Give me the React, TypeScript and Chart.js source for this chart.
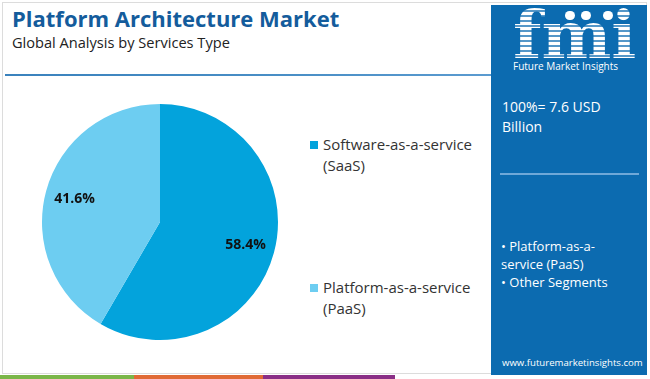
import React, { useEffect, useRef } from "react";
import { Chart, registerables } from "chart.js";

Chart.register(...registerables);

const categories = ["Software-as-a-service (SaaS)", "Platform-as-a-service (PaaS)"];
const legendLines = [["Software-as-a-service", "(SaaS)"], ["Platform-as-a-service", "(PaaS)"]];
const shares = [58.4, 41.6];
const colors = ["#03a3dc", "#6dcdf1"];
const title = "Platform Architecture Market";
const subtitle = "Global Analysis by Services Type";
const totalLines = ["100%= 7.6 USD", "Billion"];
const segmentLines = ["• Platform-as-a-", "service (PaaS)", "• Other Segments"];

const FONT = "'Open Sans', sans-serif";

const labelPlugin = {
  id: "sliceLabels",
  afterDatasetsDraw(chart: any) {
    const ctx = chart.ctx;
    const meta = chart.getDatasetMeta(0);
    ctx.save();
    ctx.font = `bold 14px ${FONT}`;
    ctx.fillStyle = "#111";
    ctx.textAlign = "center";
    ctx.textBaseline = "middle";
    meta.data.forEach((arc: any, i: number) => {
      const mid = (arc.startAngle + arc.endAngle) / 2;
      const r = arc.outerRadius * 0.75;
      ctx.fillText(shares[i].toFixed(1) + "%", arc.x + Math.cos(mid) * r, arc.y + Math.sin(mid) * r);
    });
    ctx.restore();
  },
};

export default function App() {
  const ref = useRef<HTMLCanvasElement>(null);
  useEffect(() => {
    const chart = new Chart(ref.current!, {
      type: "pie",
      data: {
        labels: categories,
        datasets: [{ data: shares, backgroundColor: colors, borderWidth: 0 }],
      },
      options: {
        responsive: false,
        animation: false,
        layout: { padding: 2 },
        plugins: { legend: { display: false }, tooltip: { enabled: false } },
      },
      plugins: [labelPlugin],
    });
    return () => chart.destroy();
  }, []);

  const abs = (o: any): React.CSSProperties => ({ position: "absolute", ...o });

  return (
    <div style={{ position: "fixed", left: 0, top: 0, width: 650, height: 379, background: "#fff", overflow: "hidden", fontFamily: FONT }}>
      <div style={abs({ left: 2, top: 2, width: 645, height: 372, border: "1px solid #dcdcdc", boxSizing: "border-box" })} />
      <div style={abs({ left: 12, top: 3, fontSize: 22, fontWeight: 700, color: "#145c9c", whiteSpace: "nowrap" })}>{title}</div>
      <div style={abs({ left: 12, top: 32, fontSize: 14.6, color: "#222", whiteSpace: "nowrap" })}>{subtitle}</div>
      <div style={abs({ left: 5, top: 74, width: 487, height: 2, background: "linear-gradient(90deg,#3a82bd,#4a8fc6 60%,#5b9bd0)" })} />

      <canvas ref={ref} width={240} height={240} style={abs({ left: 40, top: 102 })} />

      {legendLines.map((lines, i) => (
        <div key={i} style={abs({ left: 310, top: i === 0 ? 134 : 277, fontSize: 15, color: "#333", lineHeight: "21px" })}>
          <span style={abs({ left: 0, top: 7, width: 8, height: 8, background: colors[i] })} />
          <div style={{ marginLeft: 13, whiteSpace: "nowrap" }}>{lines[0]}</div>
          <div style={{ marginLeft: 13, whiteSpace: "nowrap" }}>{lines[1]}</div>
        </div>
      ))}

      <div style={abs({ left: 491, top: 5, width: 156, height: 370, background: "#0c6bb0" })} />
      <div style={abs({ left: 513, top: 2, fontSize: 66, fontWeight: 900, fontFamily: "'DejaVu Serif', serif", lineHeight: "66px", letterSpacing: 0, color: "transparent", backgroundImage: "repeating-linear-gradient(180deg,#ffffff 0 3px, rgba(255,255,255,0.3) 3px 5px)", WebkitBackgroundClip: "text", backgroundClip: "text" })}>fmi</div>
      <div style={abs({ left: 565, top: 11, width: 10, height: 9, borderRadius: 5, background: "#fff" })} />
      <div style={abs({ left: 581, top: 11, width: 10, height: 9, borderRadius: 5, background: "#fff" })} />
      <div style={abs({ left: 603, top: 11, width: 10, height: 9, borderRadius: 5, background: "#fff" })} />
      <div style={abs({ left: 513, top: 59, fontSize: 10, color: "#fff", whiteSpace: "nowrap" })}>Future Market Insights</div>

      <div style={abs({ left: 502, top: 97, fontSize: 14, color: "#fff", lineHeight: "20px" })}>
        {totalLines.map((t, i) => <div key={i}>{t}</div>)}
      </div>
      <div style={abs({ left: 500, top: 173, width: 139, height: 2, background: "#6fa8d8" })} />
      <div style={abs({ left: 501, top: 237, fontSize: 13, color: "#fff", lineHeight: "18px", whiteSpace: "nowrap" })}>
        {segmentLines.map((t, i) => <div key={i}>{t}</div>)}
      </div>
      <div style={abs({ left: 502, top: 356, fontSize: 9.6, color: "#fff", whiteSpace: "nowrap" })}>www.futuremarketinsights.com</div>

      <div style={abs({ left: 0, top: 375, width: 134, height: 4, background: "#7ab648" })} />
      <div style={abs({ left: 134, top: 375, width: 129, height: 4, background: "#e06a35" })} />
      <div style={abs({ left: 263, top: 375, width: 132, height: 4, background: "#8a2f86" })} />
    </div>
  );
}
